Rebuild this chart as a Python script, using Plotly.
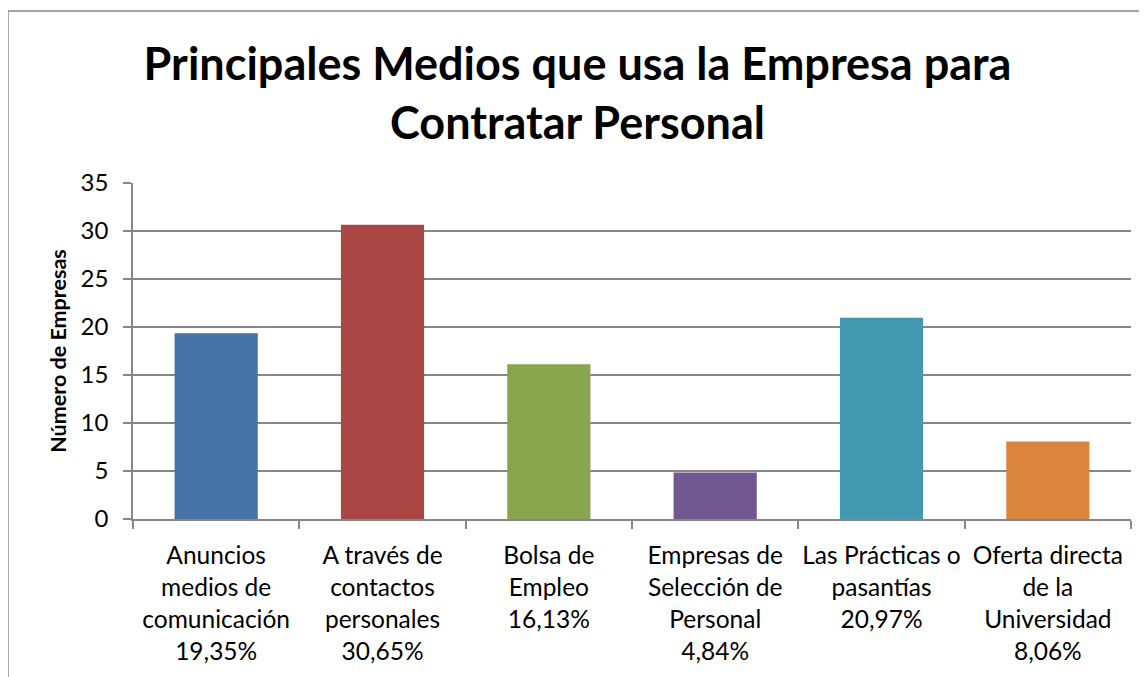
import plotly.graph_objects as go

categorias = [
    "Anuncios<br>medios de<br>comunicación",
    "A través de<br>contactos<br>personales",
    "Bolsa de<br>Empleo",
    "Empresas de<br>Selección de<br>Personal",
    "Las Prácticas o<br>pasantías",
    "Oferta directa<br>de la<br>Universidad",
]
valores = [19.35, 30.65, 16.13, 4.84, 20.97, 8.06]
colores = ["#4572A7", "#AA4643", "#89A54E", "#71588F", "#4198AF", "#DB843D"]

etiquetas = [f"{c}<br>{v:.2f}".replace(".", ",") + "%" for c, v in zip(categorias, valores)]

FONT = "Lato, 'Open Sans', sans-serif"
GRIS = "#878787"

fig = go.Figure(go.Bar(
    x=etiquetas,
    y=valores,
    marker=dict(color=colores, line=dict(width=0)),
    width=0.5,
))

# la página tiene 8px de margen en el body
fig.update_layout(
    width=1139,
    height=669,
    paper_bgcolor="white",
    plot_bgcolor="white",
    showlegend=False,
    font=dict(family=FONT, size=23, color="black"),
    title=dict(
        text="<b>Principales Medios que usa la Empresa para<br>Contratar Personal</b>",
        x=0.5,
        xanchor="center",
        y=0.892,
        yanchor="top",
        font=dict(family=FONT, size=45, color="black"),
    ),
    margin=dict(l=125, r=16, t=175, b=158),
    xaxis=dict(
        showgrid=False,
        showline=True,
        linecolor=GRIS,
        linewidth=1.5,
        ticks="outside",
        tickson="boundaries",
        ticklen=8,
        tickcolor=GRIS,
        tickwidth=1.5,
        tickangle=0,
        ticklabelstandoff=14,
        tickfont=dict(size=24.5),
    ),
    yaxis=dict(
        range=[0, 35],
        dtick=5,
        showgrid=True,
        gridcolor=GRIS,
        gridwidth=1.5,
        zeroline=False,
        showline=True,
        linecolor=GRIS,
        linewidth=1.5,
        ticks="outside",
        ticklen=8,
        tickcolor=GRIS,
        tickwidth=1.5,
        ticklabelstandoff=10,
        tickfont=dict(size=24),
        title=dict(text="<b>Número de Empresas</b>", font=dict(size=21.5), standoff=8),
    ),
    shapes=[dict(
        type="rect", xref="paper", yref="paper",
        x0=-0.1253, x1=1.03, y0=-0.5, y1=1.512,
        line=dict(color=GRIS, width=1.5),
        layer="below",
    )],
)

fig.write_html("out.html")
